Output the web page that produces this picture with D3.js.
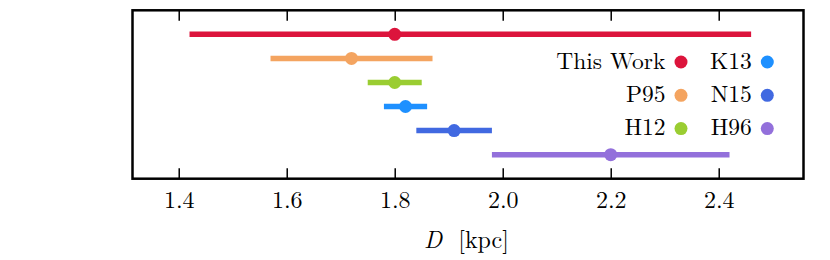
<!DOCTYPE html>
<html>
<head>
<meta charset="utf-8">
<script src="https://cdn.jsdelivr.net/npm/d3@7"></script>
<style>
  html, body { margin: 0; padding: 0; background: #fff; }
  svg { display: block; }
</style>
</head>
<body>
<svg id="chart" width="830" height="260"></svg>
<script>
// ---- data ----
const labels  = ["This Work", "P95", "H12", "K13", "N15", "H96"];
const centers = [1.80, 1.72, 1.80, 1.82, 1.91, 2.20];
const lows    = [1.42, 1.57, 1.75, 1.78, 1.84, 1.98];
const highs   = [2.46, 1.87, 1.85, 1.86, 1.98, 2.42];
const xTicks  = [1.4, 1.6, 1.8, 2.0, 2.2, 2.4];
const xTickLabels = ["1.4", "1.6", "1.8", "2.0", "2.2", "2.4"];

// ---- styles ----
const palette = ["#DC143C", "#F4A460", "#9ACD32", "#1E90FF", "#4169E1", "#9370DB"];
const FONT = "'Latin Modern Roman', 'Liberation Serif', serif";

const svg = d3.select("#chart");
const L = 132.5, R = 803.5, T = 10.3, B = 178.7;

const x = d3.scaleLinear().domain([1.3144, 2.557]).range([L, R]);
const y = d3.scaleLinear().domain([-1, 6]).range([T, B]);

const rows = labels.map((d, i) => ({label: d, c: centers[i], lo: lows[i], hi: highs[i], color: palette[i], i}));

// error bars
svg.append("g").selectAll("line").data(rows).join("line")
  .attr("x1", d => x(d.lo)).attr("x2", d => x(d.hi))
  .attr("y1", d => y(d.i)).attr("y2", d => y(d.i))
  .attr("stroke", d => d.color).attr("stroke-width", 5.5);

// points
svg.append("g").selectAll("circle").data(rows).join("circle")
  .attr("cx", d => x(d.c)).attr("cy", d => y(d.i)).attr("r", 6.5)
  .attr("fill", d => d.color);

// ticks (inside, top and bottom)
const bottomAxis = d3.axisBottom(x).tickValues(xTicks).tickSizeInner(-10.5).tickSizeOuter(0)
  .tickFormat((d, i) => xTickLabels[i]);
const gB = svg.append("g").attr("transform", `translate(0,${B})`).call(bottomAxis);
gB.select(".domain").remove();
gB.selectAll(".tick line").attr("stroke", "#000").attr("stroke-width", 1.5);
gB.selectAll(".tick text")
  .style("font-family", FONT).style("font-size", "24px")
  .attr("fill", "#000").attr("dy", null).attr("y", 29.6);

const topAxis = d3.axisTop(x).tickValues(xTicks).tickSizeInner(-10.5).tickSizeOuter(0).tickFormat("");
const gT = svg.append("g").attr("transform", `translate(0,${T})`).call(topAxis);
gT.select(".domain").remove();
gT.selectAll(".tick line").attr("stroke", "#000").attr("stroke-width", 1.5);

// frame
svg.append("rect").attr("x", L).attr("y", T).attr("width", R - L).attr("height", B - T)
  .attr("fill", "none").attr("stroke", "#000").attr("stroke-width", 2.5);

// axis label
const xl = svg.append("text").attr("x", 466.5).attr("y", 248)
  .attr("text-anchor", "middle").style("font-family", FONT).style("font-size", "24px");
xl.append("tspan").style("font-style", "italic").text("D");
xl.append("tspan").attr("dx", 8).text(" [kpc]");

// legend (column-major, 2 columns x 3 rows)
const colMarkerX = [681, 767.3];
const rowY = [62, 95.3, 128.6];
const leg = svg.append("g");
rows.forEach((d, k) => {
  const col = Math.floor(k / 3), row = k % 3;
  leg.append("circle").attr("cx", colMarkerX[col]).attr("cy", rowY[row]).attr("r", 6.5).attr("fill", d.color);
  leg.append("text").attr("x", colMarkerX[col] - 15.5).attr("y", rowY[row] + 6.8)
    .attr("text-anchor", "end").style("font-family", FONT).style("font-size", "23.5px").text(d.label);
});
</script>
</body>
</html>
